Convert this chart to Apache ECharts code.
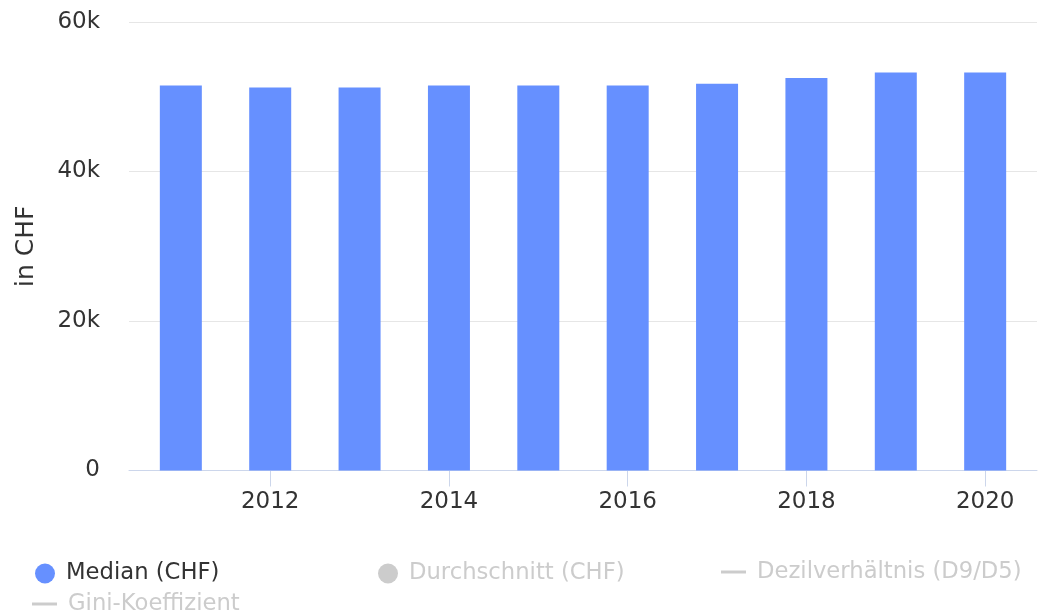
<!DOCTYPE html>
<html>
<head>
<meta charset="utf-8">
<script src="https://cdn.jsdelivr.net/npm/echarts@6/dist/echarts.min.js"></script>
<style>
html,body{margin:0;padding:0;background:#fff;}
#chart{width:1038px;height:615px;}
</style>
</head>
<body>
<div id="chart"></div>
<script>
var years = [2011, 2012, 2013, 2014, 2015, 2016, 2017, 2018, 2019, 2020];
var medianCHF = [51500, 51250, 51250, 51500, 51500, 51500, 51750, 52500, 53250, 53250];
var averageCHF = [];
var decileRatio = [];
var giniCoef = [];
var xTickLabels = [2012, 2014, 2016, 2018, 2020];

var FONT = 'DejaVu Sans';
var chart = echarts.init(document.getElementById('chart'), null, {renderer: 'canvas'});

function pairs(xs, ys) { return ys.map(function (v, i) { return [xs[i], v]; }); }

var legendBase = {
  orient: 'horizontal',
  inactiveColor: '#cccccc',
  textStyle: {fontFamily: FONT, fontSize: 22.7, color: '#333333', padding: [0, 0, 0, 6]},
  padding: 0,
  selectedMode: true
};
function mkLegend(name, left, top, icon, w, h) {
  return Object.assign({}, legendBase, {
    data: [{name: name, icon: icon}],
    left: left, top: top, itemWidth: w, itemHeight: h,
    selected: {'Median (CHF)': true, 'Durchschnitt (CHF)': false, 'Dezilverhältnis (D9/D5)': false, 'Gini-Koeffizient': false}
  });
}

var option = {
  animation: false,
  backgroundColor: '#ffffff',
  grid: {left: 129, right: 1, top: 22, bottom: 144.5, containLabel: false, outerBoundsMode: 'none'},
  legend: [
    mkLegend('Median (CHF)', 35, 562, 'circle', 20, 20),
    mkLegend('Durchschnitt (CHF)', 378, 562, 'circle', 20, 20),
    mkLegend('Dezilverhältnis (D9/D5)', 721, 560.5, 'rect', 25, 3),
    mkLegend('Gini-Koeffizient', 32, 592.5, 'rect', 25, 3)
  ],
  xAxis: {
    type: 'value',
    min: 2010.42,
    max: 2020.58,
    axisLine: {show: true, lineStyle: {color: '#ccd6eb', width: 1}},
    axisTick: {show: true, length: 16, lineStyle: {color: '#ccd6eb'}, customValues: xTickLabels},
    axisLabel: {
      customValues: xTickLabels,
      fontFamily: FONT, fontSize: 23, color: '#333333', margin: 20,
      formatter: function (v) { return String(Math.round(v)); }
    },
    splitLine: {show: false}
  },
  yAxis: {
    type: 'value',
    min: 0, max: 60000, interval: 20000,
    name: 'in CHF',
    nameLocation: 'middle',
    nameGap: 90,
    nameTextStyle: {fontFamily: FONT, fontSize: 25, color: '#333333'},
    axisLine: {show: false},
    axisTick: {show: false},
    axisLabel: {
      fontFamily: FONT, fontSize: 23, color: '#333333', margin: 29,
      formatter: function (v) { return v === 0 ? '0' : (v / 1000) + 'k'; }
    },
    splitLine: {show: true, lineStyle: {color: '#e6e6e6', width: 1}}
  },
  series: [
    {name: 'Median (CHF)', type: 'bar', barWidth: 42, data: pairs(years, medianCHF),
     itemStyle: {color: '#6690ff'}, z: 3},
    {name: 'Durchschnitt (CHF)', type: 'bar', barWidth: 42, data: pairs(years, averageCHF),
     itemStyle: {color: '#c8c8c8'}},
    {name: 'Dezilverhältnis (D9/D5)', type: 'line', data: pairs(years, decileRatio), symbol: 'none',
     itemStyle: {color: '#c8c8c8'}},
    {name: 'Gini-Koeffizient', type: 'line', data: pairs(years, giniCoef), symbol: 'none',
     itemStyle: {color: '#c8c8c8'}}
  ]
};
chart.setOption(option);
</script>
</body>
</html>
